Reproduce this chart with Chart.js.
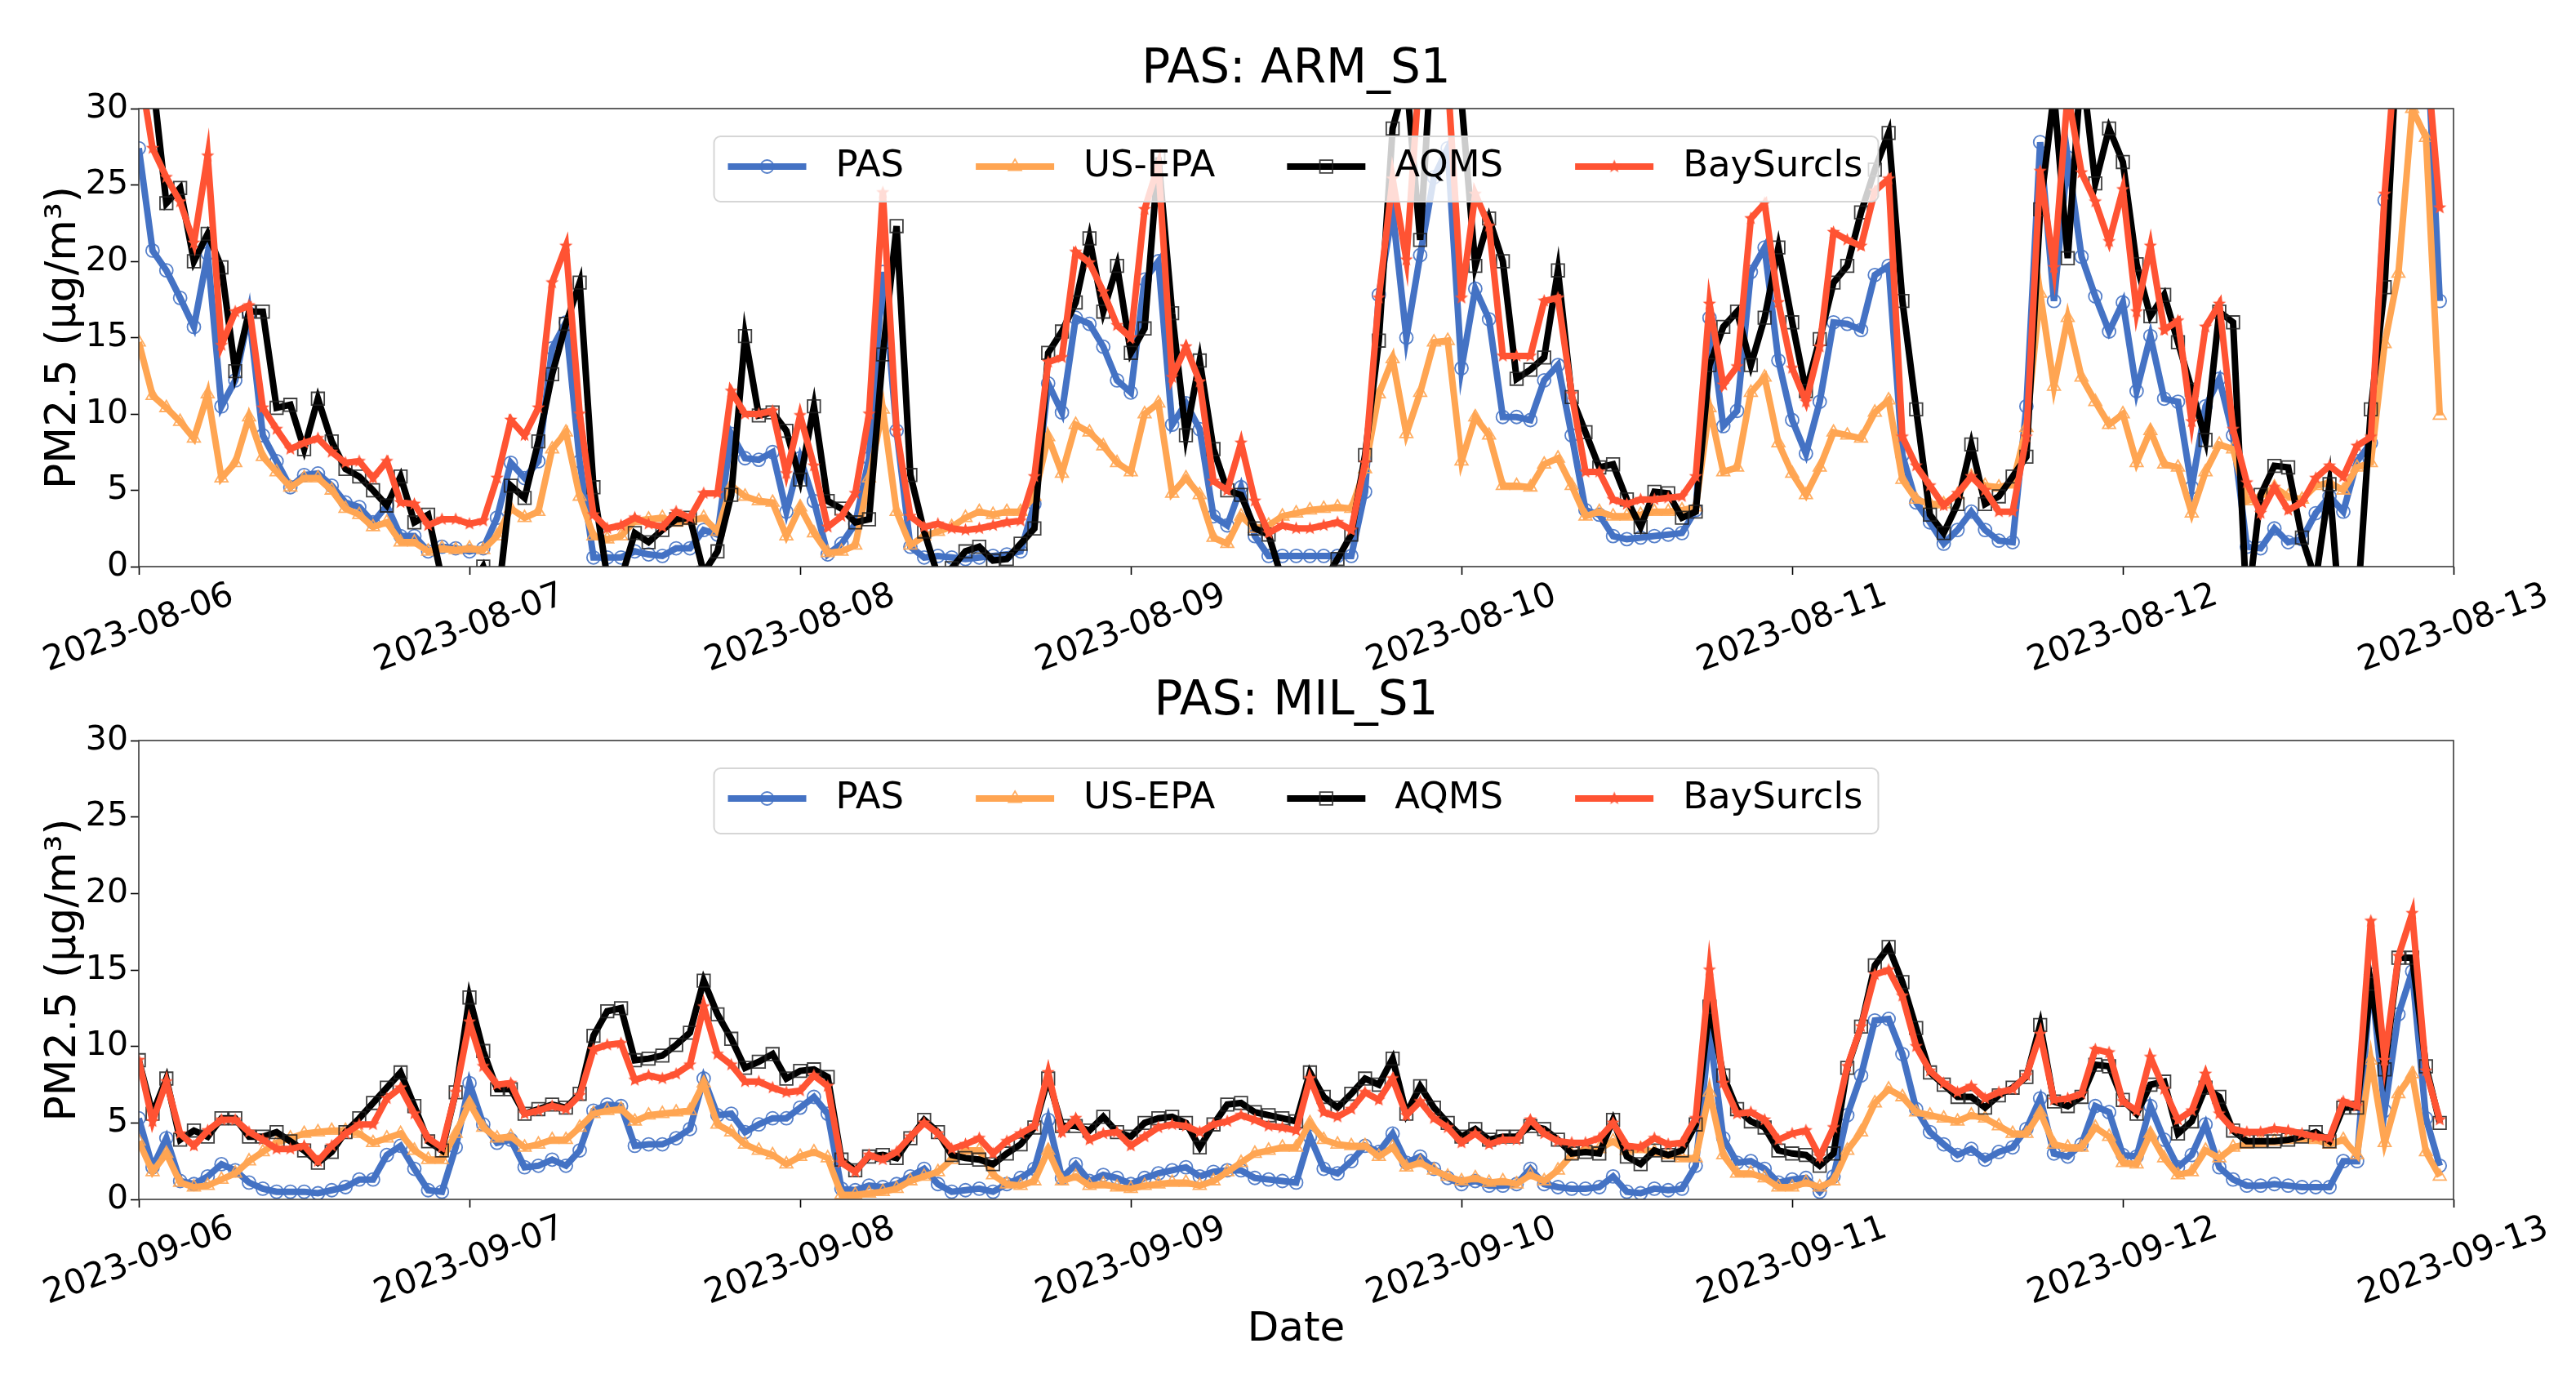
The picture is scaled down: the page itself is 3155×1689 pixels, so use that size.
<!DOCTYPE html>
<html lang="en">
<head>
<meta charset="UTF-8">
<title>PAS PM2.5 comparison</title>
<script src="https://cdn.jsdelivr.net/npm/chart.js@4.4.0/dist/chart.umd.min.js"></script>
<style>
    body {
        margin: 0;
        background: #fff;
        width: 3155px;
        height: 1689px;
        position: relative;
        overflow: hidden;
    }
    canvas { position: absolute; left: 0; }
    #armChart { top: 0; }
    #milChart { top: 780px; }
</style>
</head>
<body>
<canvas id="armChart" width="3155" height="845"></canvas>
<canvas id="milChart" width="3155" height="909"></canvas>
<script>
// hourly PM2.5 (µg/m³), one row per day, 24 values each
const seriesNames = ['PAS', 'US-EPA', 'AQMS', 'BaySurcls'];
const armDays = ['2023-08-06', '2023-08-07', '2023-08-08', '2023-08-09', '2023-08-10', '2023-08-11', '2023-08-12', '2023-08-13'];
const milDays = ['2023-09-06', '2023-09-07', '2023-09-08', '2023-09-09', '2023-09-10', '2023-09-11', '2023-09-12', '2023-09-13'];
const yTicks = [0, 5, 10, 15, 20, 25, 30];

const armPAS = [
    27.4, 20.7, 19.4, 17.6, 15.7, 20.5, 10.5, 12.2, 16.6, 8.6, 6.9, 5.2, 6.0, 6.1, 5.3, 4.2, 3.9, 2.9, 4.0, 2.0, 2.0, 1.0, 1.3, 1.2,
    1.0, 1.2, 3.2, 6.8, 5.8, 6.9, 14.3, 16.0, 6.9, 0.6, 0.6, 0.6, 1.0, 0.8, 0.7, 1.2, 1.2, 2.4, 2.1, 8.7, 7.1, 7.0, 7.5, 3.6,
    7.1, 4.3, 0.8, 1.5, 2.8, 7.1, 19.3, 8.9, 1.3, 0.6, 0.7, 0.6, 0.5, 0.6, 0.7, 0.8, 1.0, 4.1, 12.0, 10.1, 16.3, 15.9, 14.4, 12.2,
    11.4, 18.8, 20.0, 9.3, 10.7, 9.0, 3.3, 2.7, 5.2, 2.0, 0.7, 0.7, 0.7, 0.7, 0.7, 0.7, 0.7, 4.9, 17.8, 23.3, 15.0, 20.4, 25.5, 27.4,
    13.0, 18.2, 16.2, 9.8, 9.8, 9.6, 12.2, 13.2, 8.6, 3.7, 3.4, 2.0, 1.8, 1.9, 2.0, 2.1, 2.2, 3.7, 16.3, 9.2, 10.2, 19.3, 20.9, 13.5,
    9.6, 7.4, 10.8, 16.0, 15.9, 15.5, 19.1, 19.7, 7.3, 4.2, 2.9, 1.5, 2.4, 3.6, 2.4, 1.7, 1.6, 10.5, 27.8, 17.4, 26.8, 20.3, 17.7, 15.4,
    17.3, 11.5, 15.1, 11.0, 10.8, 5.2, 10.5, 12.3, 8.6, 1.3, 1.2, 2.5, 1.6, 1.8, 3.5, 4.6, 3.6, 6.9, 8.1, 24.0, 34, 38, 36, 17.4
];
const armEPA = [
    14.7, 11.2, 10.4, 9.5, 8.4, 11.3, 5.8, 6.8, 9.8, 7.2, 6.2, 5.2, 5.8, 5.8, 5.0, 3.8, 3.4, 2.6, 2.9, 1.6, 1.6, 1.0, 1.2, 1.1,
    1.2, 1.1, 2.0, 3.8, 3.2, 3.6, 7.7, 8.8, 4.6, 2.0, 1.8, 2.0, 3.0, 3.1, 3.2, 2.9, 3.0, 3.2, 2.3, 5.3, 4.6, 4.3, 4.2, 2.0,
    3.9, 2.2, 0.9, 1.0, 1.4, 5.8, 10.3, 3.6, 1.4, 2.0, 2.3, 2.6, 3.2, 3.6, 3.4, 3.6, 3.6, 4.6, 8.5, 6.1, 9.3, 8.8, 7.9, 6.8,
    6.2, 10.0, 10.7, 4.8, 5.8, 4.7, 1.9, 1.5, 3.3, 2.5, 2.7, 3.3, 3.5, 3.7, 3.8, 3.9, 3.8, 6.4, 11.3, 13.6, 8.7, 11.4, 14.7, 14.8,
    6.9, 9.8, 8.6, 5.3, 5.3, 5.2, 6.7, 7.1, 5.3, 3.3, 3.6, 3.3, 3.3, 3.4, 3.6, 3.6, 3.7, 3.9, 10.4, 6.2, 6.5, 11.4, 12.4, 8.1,
    6.1, 4.7, 6.5, 8.8, 8.6, 8.4, 10.1, 10.9, 5.7, 4.4, 4.1, 4.1, 4.7, 5.9, 5.3, 5.2, 5.4, 9.1, 17.9, 11.8, 16.3, 12.4, 10.8, 9.3,
    10.0, 6.8, 8.9, 6.7, 6.5, 3.5, 6.2, 8.0, 7.7, 4.3, 4.6, 5.2, 4.6, 4.4, 5.3, 5.5, 5.0, 6.5, 6.8, 14.6, 19.2, 30, 28.1, 9.9
];
const armAQMS = [
    34, 32, 23.8, 24.8, 20.0, 21.8, 19.6, 12.8, 16.7, 16.7, 10.4, 10.6, 7.7, 11.0, 8.2, 6.4, 5.9, 5.0, 4.0, 5.9, 2.9, 3.4, -0.8, -2,
    -1.5, 0, -2.7, 5.3, 4.5, 8.2, 12.6, 15.9, 18.6, 5.2, -0.7, -0.8, 2.2, 1.6, 2.4, 3.1, 3.2, -0.4, 1.0, 4.7, 15.1, 9.9, 10.1, 8.9,
    5.7, 10.5, 4.3, 3.8, 2.9, 3.1, 13.9, 22.3, 6.0, 2.3, -0.6, -0.1, 1.0, 1.3, 0.4, 0.5, 1.5, 2.5, 14.0, 15.4, 17.3, 21.5, 16.7, 19.7,
    14.0, 15.6, 26.8, 16.6, 8.6, 13.5, 7.7, 5.0, 4.7, 2.5, 2.1, -0.9, -2, -2, -1, 0.5, 2.1, 7.3, 14.8, 28.7, 32, 21.4, 36, 34,
    30.5, 19.7, 22.8, 20.0, 12.3, 12.9, 13.7, 19.4, 11.1, 8.8, 6.5, 6.7, 4.4, 2.6, 4.9, 4.8, 3.2, 3.6, 13.2, 15.7, 16.7, 13.2, 16.3, 20.9,
    16.0, 11.5, 14.9, 18.6, 19.7, 23.2, 26.0, 28.4, 17.4, 10.3, 3.4, 2.2, 4.1, 8.0, 4.1, 4.6, 5.9, 7.2, 23.4, 31, 20.2, 33, 25.1, 28.7,
    26.5, 19.8, 16.4, 17.8, 14.7, 11.6, 8.3, 16.7, 16.0, -3, 4.7, 6.6, 6.5, 1.9, -0.9, 5.4, -6, -3, 10.3, 18.3, 36, 40, 42, 38
];
const armBay = [
    33, 27.4, 25.5, 23.9, 21.2, 26.9, 14.5, 16.7, 17.1, 10.4, 9.0, 7.7, 8.1, 8.4, 7.5, 6.8, 6.9, 5.8, 6.9, 4.2, 4.1, 2.7, 3.1, 3.1,
    2.8, 3.0, 5.8, 9.6, 8.6, 10.4, 18.6, 21.0, 10.0, 3.4, 2.5, 2.7, 3.2, 2.8, 2.6, 3.6, 3.2, 4.8, 4.8, 11.5, 10.0, 10.0, 10.2, 6.1,
    9.9, 6.6, 2.6, 3.3, 4.8, 10.0, 24.5, 8.9, 3.3, 2.6, 2.8, 2.5, 2.4, 2.5, 2.7, 2.9, 3.0, 5.9, 13.4, 13.7, 20.6, 19.9, 18.0, 15.8,
    15.0, 23.4, 26.3, 12.4, 14.4, 12.1, 5.6, 5.0, 8.1, 4.3, 2.2, 2.7, 2.5, 2.5, 2.7, 2.9, 2.4, 6.8, 17.6, 25.4, 20.1, 33, 35, 32,
    17.6, 24.4, 22.3, 13.8, 13.8, 13.8, 17.4, 17.6, 11.3, 6.2, 6.2, 4.4, 4.1, 4.4, 4.4, 4.5, 4.6, 5.9, 17.2, 11.9, 13.1, 22.8, 23.8, 17.3,
    13.0, 10.8, 14.4, 21.9, 21.4, 21.0, 24.6, 25.4, 8.5, 6.6, 5.3, 4.0, 4.8, 5.9, 5.0, 3.6, 3.6, 8.5, 25.9, 19.6, 31, 25.8, 23.9, 21.3,
    24.7, 16.7, 21.0, 15.5, 16.1, 9.5, 15.7, 17.2, 9.0, 5.5, 3.5, 5.2, 3.7, 4.2, 5.8, 6.6, 5.9, 7.9, 8.5, 24.4, 36, 38, 34, 23.5
];

const milPAS = [
    5.3, 2.1, 4.0, 1.2, 1.0, 1.5, 2.3, 1.9, 1.1, 0.7, 0.5, 0.5, 0.5, 0.4, 0.6, 0.8, 1.3, 1.3, 2.9, 3.5, 2.0, 0.6, 0.5, 3.4,
    7.6, 4.9, 3.7, 3.9, 2.1, 2.2, 2.6, 2.2, 3.2, 5.8, 6.2, 6.1, 3.5, 3.6, 3.6, 4.0, 4.6, 7.9, 5.5, 5.6, 4.4, 4.9, 5.3, 5.3,
    6.0, 6.7, 5.6, 0.7, 0.6, 0.9, 0.8, 1.0, 1.5, 2.0, 1.0, 0.5, 0.6, 0.7, 0.5, 1.0, 1.4, 2.0, 5.2, 1.4, 2.3, 1.2, 1.6, 1.4,
    1.0, 1.4, 1.7, 1.9, 2.1, 1.5, 1.8, 1.9, 1.9, 1.4, 1.3, 1.2, 1.1, 4.1, 2.0, 1.7, 2.5, 3.5, 3.1, 4.3, 2.4, 2.8, 2.0, 1.4,
    1.0, 1.2, 0.9, 0.9, 1.0, 2.0, 1.0, 0.8, 0.7, 0.7, 0.8, 1.5, 0.5, 0.4, 0.7, 0.6, 0.7, 2.2, 11.0, 4.0, 2.4, 2.5, 2.0, 1.1,
    1.3, 1.4, 0.5, 1.5, 5.5, 8.1, 11.7, 11.8, 9.5, 5.9, 4.4, 3.6, 2.9, 3.3, 2.6, 3.1, 3.4, 4.6, 6.6, 3.0, 2.8, 3.6, 6.1, 5.7,
    2.9, 2.8, 6.1, 3.9, 2.1, 2.9, 4.9, 2.1, 1.3, 0.9, 0.9, 1.0, 0.9, 0.8, 0.8, 0.8, 2.5, 2.5, 14.7, 5.8, 12.1, 14.9, 5.3, 2.2
];
const milEPA = [
    3.8, 1.8, 3.0, 1.1, 0.8, 0.9, 1.3, 1.7, 2.5, 3.1, 3.7, 4.0, 4.3, 4.4, 4.5, 4.5, 4.3, 3.7, 4.0, 4.3, 3.2, 2.6, 2.6, 4.3,
    6.3, 4.7, 4.0, 4.1, 3.4, 3.6, 3.9, 3.9, 4.7, 5.6, 5.8, 5.9, 5.1, 5.5, 5.6, 5.7, 5.8, 7.6, 4.9, 4.4, 3.6, 3.2, 2.9, 2.3,
    2.8, 3.1, 2.7, 0.3, 0.3, 0.4, 0.5, 0.7, 1.2, 1.5, 1.8, 2.6, 3.2, 3.2, 1.6, 1.0, 0.9, 1.2, 3.2, 1.2, 1.5, 0.9, 1.0, 0.8,
    0.7, 0.9, 1.0, 1.1, 1.1, 0.9, 1.2, 1.8, 2.4, 3.0, 3.2, 3.4, 3.4, 5.0, 3.9, 3.6, 3.5, 3.5, 2.8, 3.4, 2.1, 2.4, 1.9, 1.5,
    1.2, 1.4, 1.1, 1.2, 1.0, 1.6, 1.2, 1.9, 2.9, 3.3, 3.3, 3.8, 3.2, 3.3, 3.1, 2.9, 2.7, 2.7, 7.0, 2.9, 1.7, 1.7, 1.4, 0.8,
    0.8, 1.1, 0.8, 1.2, 3.2, 4.4, 6.3, 7.2, 6.7, 5.7, 5.5, 5.3, 5.1, 5.5, 5.3, 4.8, 4.3, 4.3, 5.7, 3.6, 3.4, 3.4, 4.7, 4.1,
    2.4, 2.3, 4.3, 2.7, 1.6, 1.8, 3.2, 2.7, 3.4, 3.6, 3.7, 3.8, 3.9, 4.0, 3.9, 3.6, 3.9, 2.9, 9.1, 3.7, 6.9, 8.2, 3.1, 1.5
];
const milAQMS = [
    9.1, 5.6, 7.9, 3.9, 4.5, 4.1, 5.3, 5.3, 4.1, 4.1, 4.4, 3.8, 3.2, 2.4, 3.1, 4.4, 5.3, 6.3, 7.3, 8.3, 6.1, 3.8, 3.2, 7.0,
    13.2, 9.7, 7.2, 7.2, 5.6, 5.9, 6.2, 6.0, 6.9, 10.7, 12.3, 12.5, 9.1, 9.2, 9.4, 10.1, 10.9, 14.3, 12.1, 10.5, 8.6, 9.0, 9.5, 7.9,
    8.4, 8.5, 8.0, 2.6, 1.9, 2.8, 2.9, 2.7, 4.0, 5.2, 4.4, 2.9, 2.7, 2.6, 2.3, 3.0, 3.6, 4.7, 7.9, 4.8, 4.8, 4.5, 5.4, 4.4,
    4.1, 5.0, 5.3, 5.4, 5.0, 3.4, 4.9, 6.2, 6.3, 5.7, 5.5, 5.3, 5.1, 8.3, 6.7, 6.0, 6.9, 7.9, 7.5, 9.2, 5.6, 7.4, 6.0, 5.0,
    4.1, 4.6, 3.9, 4.1, 4.1, 4.8, 4.6, 3.9, 3.0, 3.1, 3.0, 5.2, 2.8, 2.3, 3.2, 2.9, 3.2, 4.9, 12.6, 8.1, 5.9, 5.1, 4.7, 3.2,
    3.0, 2.9, 2.2, 3.0, 8.6, 11.3, 15.3, 16.5, 14.2, 11.2, 8.3, 7.5, 6.7, 6.7, 6.0, 6.8, 7.3, 8.0, 11.4, 6.4, 6.1, 6.7, 8.8, 8.7,
    6.5, 5.6, 7.5, 7.7, 4.3, 5.1, 7.3, 6.7, 4.5, 3.8, 3.8, 3.8, 3.9, 4.1, 4.4, 3.8, 6.0, 6.0, 14.1, 8.5, 15.8, 15.8, 8.7, 5.0
];
const milBay = [
    9.1, 5.1, 7.7, 4.3, 3.5, 4.5, 5.2, 5.2, 4.4, 3.9, 3.3, 3.3, 3.5, 2.5, 3.5, 4.3, 4.9, 4.9, 6.6, 7.3, 5.6, 4.0, 3.4, 7.0,
    11.6, 8.7, 7.5, 7.6, 5.6, 5.8, 6.1, 5.9, 6.8, 9.8, 10.1, 10.2, 7.8, 8.1, 7.9, 8.2, 8.8, 12.6, 9.5, 8.8, 7.7, 7.7, 7.3, 7.0,
    7.1, 8.1, 7.4, 2.4, 1.8, 2.9, 2.6, 3.1, 4.1, 5.0, 4.3, 3.3, 3.6, 4.0, 3.0, 3.8, 4.3, 4.8, 8.3, 4.4, 5.3, 3.9, 4.3, 4.4,
    3.5, 4.1, 4.7, 4.9, 4.8, 4.4, 4.9, 5.1, 5.5, 5.2, 4.8, 4.7, 4.5, 7.9, 5.7, 5.4, 5.9, 7.0, 6.5, 7.9, 5.5, 6.4, 5.3, 4.7,
    3.7, 4.3, 3.6, 3.9, 3.9, 5.2, 4.3, 3.8, 3.7, 3.7, 4.0, 5.0, 3.5, 3.4, 4.0, 3.6, 3.7, 5.3, 15.0, 7.6, 5.6, 5.7, 5.2, 3.9,
    4.3, 4.5, 2.8, 4.7, 8.7, 11.3, 14.7, 15.0, 13.3, 10.0, 8.4, 7.6, 7.0, 7.4, 6.6, 7.0, 7.2, 8.1, 10.8, 6.5, 6.6, 6.9, 9.8, 9.6,
    6.4, 5.8, 9.3, 7.2, 5.2, 5.8, 8.2, 5.6, 4.6, 4.4, 4.4, 4.6, 4.5, 4.3, 4.1, 4.0, 6.4, 6.1, 18.2, 9.1, 15.9, 18.7, 8.4, 5.2
];

const colors = ['#4472C4', '#FFA552', '#000000', '#FF5333'];
const markerEdges = ['rgba(68,114,196,0.9)', 'rgba(255,165,82,0.9)', 'rgba(30,30,30,0.85)', '#FF5333'];
const FONT = '"DejaVu Sans", sans-serif';

// filled star marker (Chart.js "star" is only a stroked asterisk)
function starImage(color, r) {
    const c = document.createElement('canvas');
    c.width = c.height = Math.ceil(r * 2 + 2);
    const g = c.getContext('2d');
    const m = c.width / 2;
    g.beginPath();
    for (let i = 0; i < 10; i++) {
        const rr = i % 2 ? r * 0.42 : r;
        const a = -Math.PI / 2 + i * Math.PI / 5;
        g.lineTo(m + rr * Math.cos(a), m + rr * Math.sin(a));
    }
    g.closePath();
    g.fillStyle = color;
    g.fill();
    return c;
}
const starMarker = starImage(colors[3], 8.5);

const markerStyles = [
    { pointStyle: 'circle', radius: 8 },
    { pointStyle: 'triangle', radius: 9 },
    { pointStyle: 'rect', radius: 11 },
    { pointStyle: starMarker, radius: 8.5 }
];

function drawMarker(ctx, i, x, y) {
    const st = markerStyles[i];
    ctx.save();
    ctx.strokeStyle = markerEdges[i];
    ctx.lineWidth = 1.8;
    ctx.beginPath();
    if (st.pointStyle === 'circle') {
        ctx.arc(x, y, st.radius, 0, Math.PI * 2);
    } else if (st.pointStyle === 'triangle') {
        const r = st.radius;
        ctx.moveTo(x, y - r);
        ctx.lineTo(x + r * 0.866, y + r * 0.5);
        ctx.lineTo(x - r * 0.866, y + r * 0.5);
        ctx.closePath();
    } else if (st.pointStyle === 'rect') {
        const s = st.radius * Math.SQRT1_2;
        ctx.rect(x - s, y - s, 2 * s, 2 * s);
    } else {
        ctx.drawImage(starMarker, x - starMarker.width / 2, y - starMarker.height / 2);
        ctx.restore();
        return;
    }
    ctx.stroke();
    ctx.restore();
}

// titles, axis labels, rotated date labels, frame and in-plot legend
function decorations(title, days, xLabel) {
    return {
        id: 'decor',
        afterDraw(chart) {
            const ctx = chart.ctx;
            const a = chart.chartArea;
            const xs = chart.scales.x;
            ctx.save();
            ctx.strokeStyle = '#3a3a3a';
            ctx.lineWidth = 1.6;
            ctx.strokeRect(a.left, a.top, a.right - a.left, a.bottom - a.top);

            ctx.fillStyle = '#000';
            ctx.textAlign = 'center';
            ctx.textBaseline = 'middle';
            ctx.font = '58px ' + FONT;
            ctx.fillText(title, (a.left + a.right) / 2, a.top - 47);

            ctx.save();
            ctx.font = '52px ' + FONT;
            ctx.textBaseline = 'alphabetic';
            ctx.translate(92, (a.top + a.bottom) / 2);
            ctx.rotate(-Math.PI / 2);
            ctx.fillText('PM2.5 (µg/m³)', 0, 0);
            ctx.restore();

            ctx.font = '42px ' + FONT;
            days.forEach((d, i) => {
                const x = xs.getPixelForValue(i * 24);
                ctx.save();
                ctx.translate(x, a.bottom + 76);
                ctx.rotate(-20 * Math.PI / 180);
                ctx.fillText(d, 0, 0);
                ctx.restore();
            });

            if (xLabel) {
                ctx.font = '50px ' + FONT;
                ctx.fillText(xLabel, (a.left + a.right) / 2, a.bottom + 160);
            }

            // legend
            ctx.font = '45px ' + FONT;
            const handle = 96, textGap = 36, colGap = 88, padL = 17, padR = 19;
            const widths = seriesNames.map(s => ctx.measureText(s).width);
            let total = padL + padR;
            widths.forEach((w, i) => {
                total += handle + textGap + w + (i < widths.length - 1 ? colGap : 0);
            });
            const bx = (a.left + a.right) / 2 - total / 2;
            const by = a.top + 34;
            const bh = 80;
            ctx.beginPath();
            ctx.roundRect(bx, by, total, bh, 8);
            ctx.fillStyle = 'rgba(255,255,255,0.8)';
            ctx.fill();
            ctx.strokeStyle = '#d6d6d6';
            ctx.lineWidth = 2;
            ctx.stroke();

            let x = bx + padL;
            const ly = by + 37;
            seriesNames.forEach((s, i) => {
                ctx.beginPath();
                ctx.strokeStyle = colors[i];
                ctx.lineWidth = 8;
                ctx.moveTo(x, ly);
                ctx.lineTo(x + handle, ly);
                ctx.stroke();
                drawMarker(ctx, i, x + handle / 2, ly);
                ctx.fillStyle = '#000';
                ctx.textAlign = 'left';
                ctx.textBaseline = 'middle';
                ctx.fillText(s, x + handle + textGap, ly);
                x += handle + textGap + widths[i] + colGap;
            });
            ctx.restore();
        }
    };
}

function makeDatasets(lists) {
    return lists.map((vals, i) => ({
        label: seriesNames[i],
        data: vals.map((v, h) => ({ x: h, y: v })),
        borderColor: colors[i],
        borderWidth: 8,
        tension: 0,
        pointStyle: markerStyles[i].pointStyle,
        pointRadius: markerStyles[i].radius,
        pointBorderWidth: 1.8,
        pointBorderColor: markerEdges[i],
        pointBackgroundColor: 'rgba(0,0,0,0)',
        order: 4 - i,
        clip: 0
    }));
}

function makeChart(id, lists, title, days, xLabel, padTop, xAxisHeight) {
    return new Chart(document.getElementById(id), {
        type: 'line',
        data: { datasets: makeDatasets(lists) },
        options: {
            responsive: false,
            animation: false,
            devicePixelRatio: 1,
            layout: { padding: { top: padTop, right: 150, left: 0, bottom: 0 } },
            plugins: { legend: { display: false }, tooltip: { enabled: false } },
            scales: {
                x: {
                    type: 'linear',
                    min: 0,
                    max: 168,
                    afterBuildTicks: s => { s.ticks = days.map((d, i) => ({ value: i * 24 })); },
                    ticks: { display: false },
                    grid: { drawOnChartArea: false, drawTicks: true, tickLength: 10, tickColor: '#000', tickWidth: 1.6 },
                    border: { display: false },
                    afterFit: s => { s.height = xAxisHeight; }
                },
                y: {
                    min: 0,
                    max: 30,
                    afterBuildTicks: s => { s.ticks = yTicks.map(v => ({ value: v })); },
                    ticks: { color: '#000', font: { size: 41, family: FONT }, padding: 3 },
                    grid: { drawOnChartArea: false, drawTicks: true, tickLength: 10, tickColor: '#000', tickWidth: 1.6 },
                    border: { display: false },
                    afterFit: s => { s.width = 170; }
                }
            }
        },
        plugins: [decorations(title, days, xLabel)]
    });
}

makeChart('armChart', [armPAS, armEPA, armAQMS, armBay], 'PAS: ARM_S1', armDays, null, 133, 151);
makeChart('milChart', [milPAS, milEPA, milAQMS, milBay], 'PAS: MIL_S1', milDays, 'Date', 127, 220);
</script>
</body>
</html>
